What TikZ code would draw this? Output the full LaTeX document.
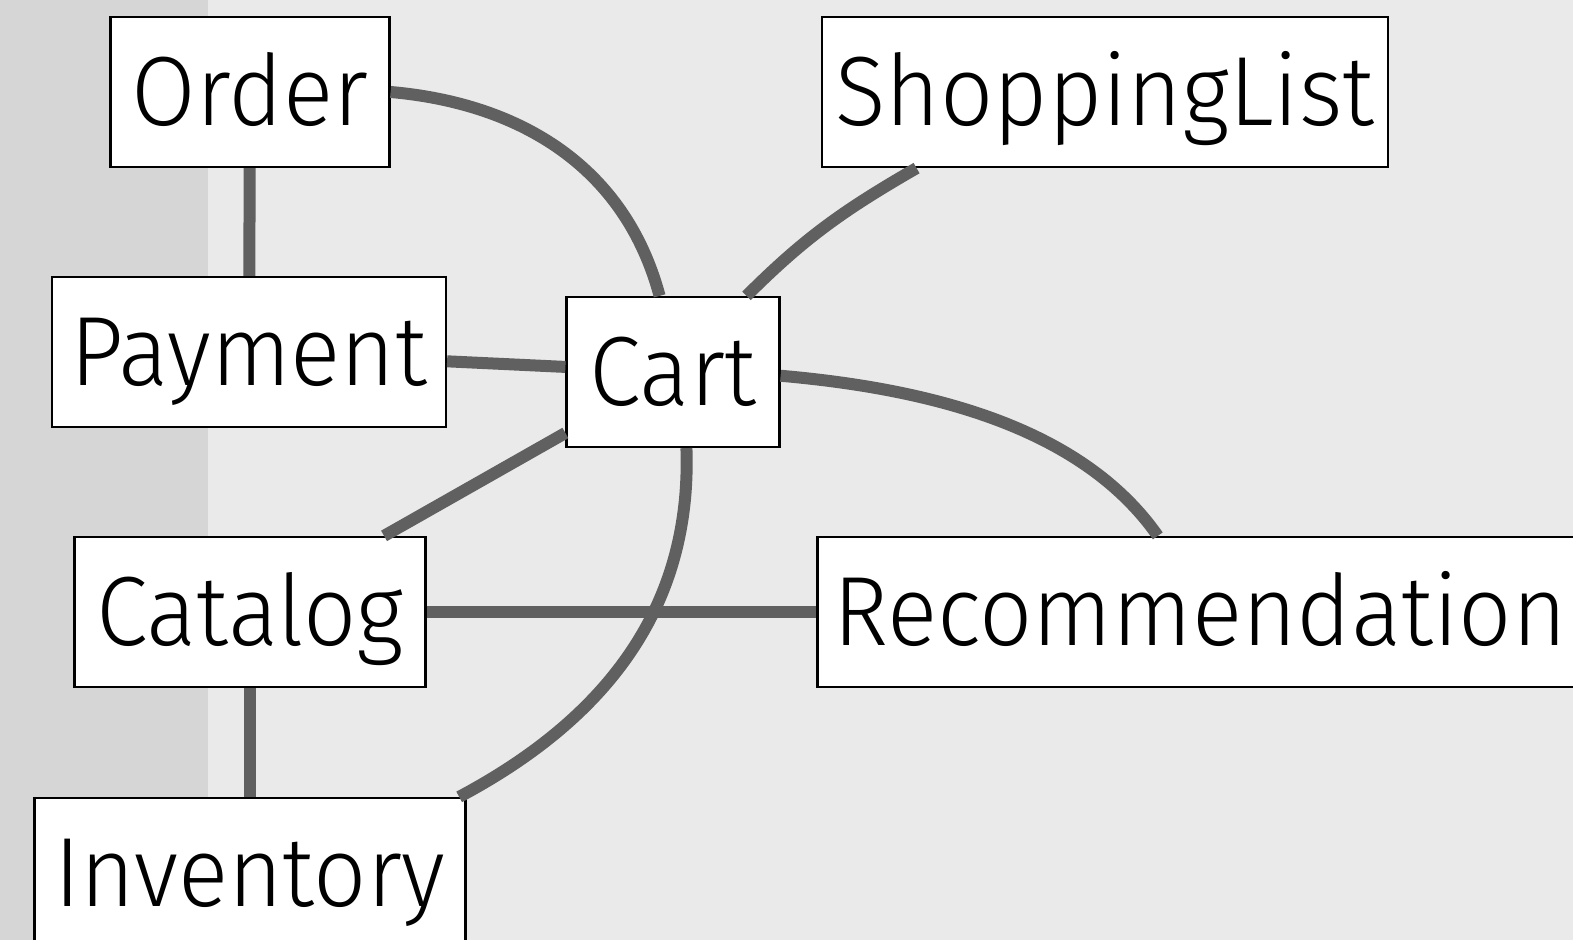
\documentclass[tikz,border=0pt]{standalone}
\usepackage{fontspec}
\setmainfont{Fira Sans}[UprightFont=* Light, FakeStretch=0.95]
\usetikzlibrary{positioning}
\definecolor{bgcol}{HTML}{EAEAEA}
\definecolor{stripcol}{HTML}{D6D6D6}
\definecolor{linkcol}{HTML}{606060}
\tikzset{
    box/.style={draw=black, line width=0.045cm, fill=white, minimum height=3cm, inner sep=0pt,
        text height=38.5pt, text depth=0pt, font=\fontsize{56}{60}\selectfont},
    link/.style={draw=linkcol, line width=0.24cm}
}

\begin{document}
\begin{tikzpicture}[x=0.02cm,y=0.02cm]
    \useasboundingbox(0,0) rectangle (1573,940);
    \clip(0,0) rectangle (1573,940);
    \fill[bgcol](0,0) rectangle (1573,940);
    \fill[stripcol](0,0) rectangle (208,940);
    \node[box, minimum width=5.58cm] (order) at (250,848) {Order};
    \node[box, minimum width=11.32cm] (shop) at (1105,848) {ShoppingList};
    \node[box, minimum width=7.88cm] (pay) at (249,588) {Payment};
    \node[box, minimum width=4.26cm] (cart) at (673,568) {Cart};
    \node[box, minimum width=7.02cm] (cat) at (250,328) {Catalog};
    \node[box, minimum width=15.3cm] (rec) at (1200,328) {Recommendation};
    \node[box, minimum width=8.62cm] (inv) at (250,67) {Inventory};
    \draw[link](order)--(pay);
    \draw[link](order.east) to[out=-5,in=105] (cart.100);
    \draw[link](shop.202) to[out=210,in=45] (cart.46);
    \draw[link](pay)--(cart);
    \draw[link](cat)--(cart);
    \draw[link](cat)--(rec);
    \draw[link](cat)--(inv);
    \draw[link](cart.-2) to[out=-5,in=125,out looseness=1,in looseness=0.8] (rec.119);
    \draw[link](cart.-80) to[out=-88,in=28] (inv.20);
\end{tikzpicture}
\end{document}
